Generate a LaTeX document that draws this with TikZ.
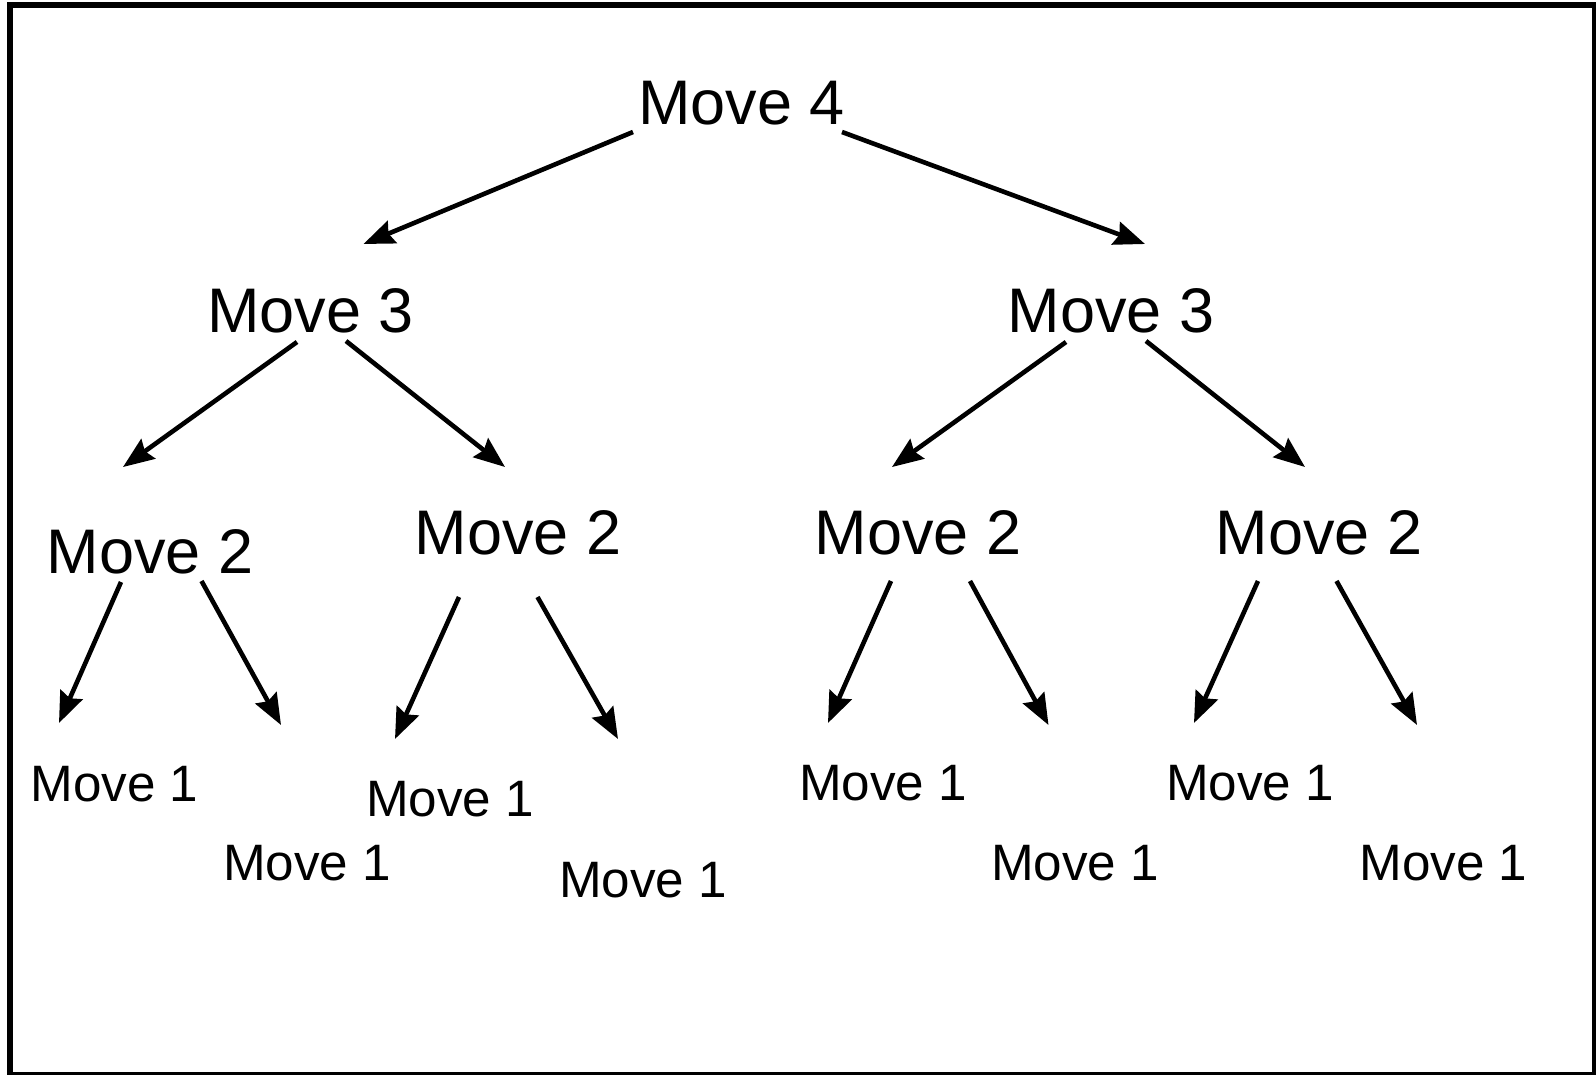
\documentclass[tikz,border=0pt]{standalone}
\usepackage{fontspec}
\setmainfont{Liberation Sans}
\usetikzlibrary{arrows.meta,calc}
\begin{document}
\begin{tikzpicture}[x=0.5pt,y=-0.5pt,
  big/.style={inner sep=0pt,font=\fontsize{31.5pt}{36pt}\selectfont},
  small/.style={inner sep=0pt,font=\fontsize{25.6pt}{30pt}\selectfont},
  arr/.style={line width=2.3pt,-{Stealth[length=15.5pt,width=12pt,inset=2pt]}}]
\useasboundingbox (0,0) rectangle (1596,1075);
\draw[line width=3pt] (10,5) rectangle (1595,1075);
\node[big] (m4) at (741.6,102.8) {Move 4};
\node[big] (m3a) at (310.5,310.5) {Move 3};
\node[big] (m3b) at (1111,310.5) {Move 3};
\node[big] (m2a) at (150,552) {Move 2};
\node[big] (m2b) at (518,533) {Move 2};
\node[big] (m2c) at (918,533) {Move 2};
\node[big] (m2d) at (1319,533) {Move 2};
\node[small] (m1a) at (114.5,784) {Move 1};
\node[small] (m1b) at (307,863) {Move 1};
\node[small] (m1c) at (450,799) {Move 1};
\node[small] (m1d) at (643,880.5) {Move 1};
\node[small] (m1e) at (883,783) {Move 1};
\node[small] (m1f) at (1075,863) {Move 1};
\node[small] (m1g) at (1250,783) {Move 1};
\node[small] (m1h) at (1443.5,863) {Move 1};
% level 4 -> 3
\draw[arr] ($(m4)+(-108.6,29.2)$) -- ($(m3a)+(53,-66.5)$);
\draw[arr] ($(m4)+(100.4,29.2)$) -- ($(m3b)+(34,-66.5)$);
% level 3 -> 2
\draw[arr] ($(m3a)+(-13.5,31.5)$) -- ($(m2a)+(-27,-85)$);
\draw[arr] ($(m3a)+(35.5,30.5)$) -- ($(m2b)+(-13,-66)$);
\draw[arr] ($(m3b)+(-45,31.5)$) -- ($(m2c)+(-26,-66)$);
\draw[arr] ($(m3b)+(35,30.5)$) -- ($(m2d)+(-14,-66)$);
% level 2 -> 1
\draw[arr] ($(m2a)+(-29,30)$) -- ($(m1a)+(-55.5,-61)$);
\draw[arr] ($(m2a)+(51.5,29)$) -- ($(m1b)+(-26,-138)$);
\draw[arr] ($(m2b)+(-59,64)$) -- ($(m1c)+(-55,-60)$);
\draw[arr] ($(m2b)+(19.5,64)$) -- ($(m1d)+(-25,-141.5)$);
\draw[arr] ($(m2c)+(-27,48)$) -- ($(m1e)+(-55,-60)$);
\draw[arr] ($(m2c)+(52,48)$) -- ($(m1f)+(-26.5,-138)$);
\draw[arr] ($(m2d)+(-61,48)$) -- ($(m1g)+(-56,-60)$);
\draw[arr] ($(m2d)+(17.5,48)$) -- ($(m1h)+(-26.5,-138)$);
\end{tikzpicture}
\end{document}
